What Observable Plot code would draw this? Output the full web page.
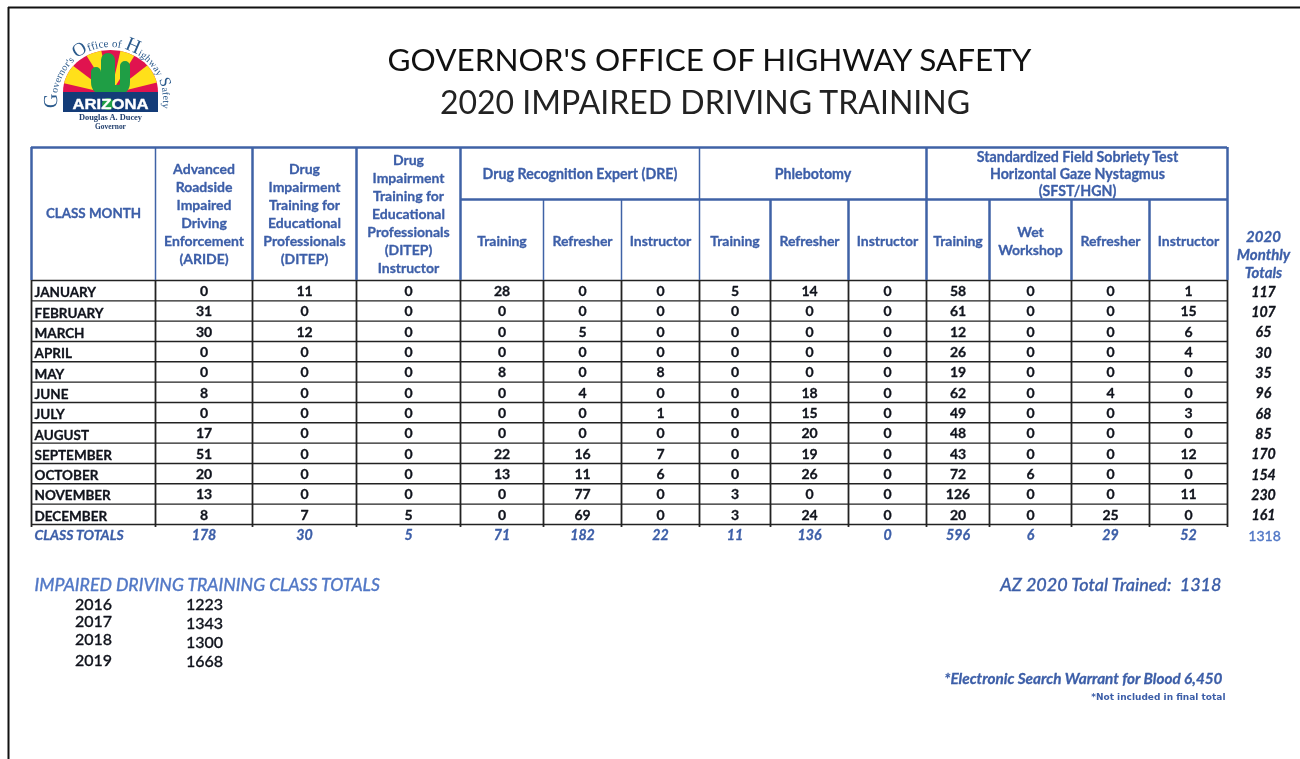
<!DOCTYPE html>
<html>
<head>
<meta charset="utf-8">
<script src="https://cdn.jsdelivr.net/npm/d3@7"></script>
<script src="https://cdn.jsdelivr.net/npm/@observablehq/plot@0.6"></script>
<style>
html,body{margin:0;padding:0;background:#fff;overflow:hidden}
svg{display:block;background:#fff;filter:blur(0.35px)}
</style>
</head>
<body>
<div id="chart"></div>
<script>
// ---------- data ----------
const months = ["JANUARY","FEBRUARY","MARCH","APRIL","MAY","JUNE","JULY","AUGUST","SEPTEMBER","OCTOBER","NOVEMBER","DECEMBER"];
const aride      = [0,31,30,0,0,8,0,17,51,20,13,8];
const ditep      = [11,0,12,0,0,0,0,0,0,0,0,7];
const ditepInstr = [0,0,0,0,0,0,0,0,0,0,0,5];
const dreTraining  = [28,0,0,0,8,0,0,0,22,13,0,0];
const dreRefresher = [0,0,5,0,0,4,0,0,16,11,77,69];
const dreInstr     = [0,0,0,0,8,0,1,0,7,6,0,0];
const phlebTraining  = [5,0,0,0,0,0,0,0,0,0,3,3];
const phlebRefresher = [14,0,0,0,0,18,15,20,19,26,0,24];
const phlebInstr     = [0,0,0,0,0,0,0,0,0,0,0,0];
const sfstTraining  = [58,61,12,26,19,62,49,48,43,72,126,20];
const sfstWet       = [0,0,0,0,0,0,0,0,0,6,0,0];
const sfstRefresher = [0,0,0,0,0,4,0,0,0,0,0,25];
const sfstInstr     = [1,15,6,4,0,0,3,0,12,0,11,0];
const monthlyTotals = [117,107,65,30,35,96,68,85,170,154,230,161];
const classTotals   = [178,30,5,71,182,22,11,136,0,596,6,29,52];
const grandTotal = 1318;
const pastYears = ["2016","2017","2018","2019"];
const pastTotals = [1223,1343,1300,1668];
const columnHeads = [
  "Advanced\nRoadside\nImpaired\nDriving\nEnforcement\n(ARIDE)",
  "Drug\nImpairment\nTraining for\nEducational\nProfessionals\n(DITEP)",
  "Drug\nImpairment\nTraining for\nEducational\nProfessionals\n(DITEP)\nInstructor",
  "Training","Refresher","Instructor",
  "Training","Refresher","Instructor",
  "Training","Wet\nWorkshop","Refresher","Instructor"
];
const groupHeads = ["Drug Recognition Expert (DRE)","Phlebotomy","Standardized Field Sobriety Test\nHorizontal Gaze Nystagmus\n(SFST/HGN)"];
const columns = [aride,ditep,ditepInstr,dreTraining,dreRefresher,dreInstr,phlebTraining,phlebRefresher,phlebInstr,sfstTraining,sfstWet,sfstRefresher,sfstInstr];

// ---------- layout ----------
const W = 1300, H = 759;
const edges = [31,155,252,356,460,543,621,699,770,848,926,989,1071,1149,1227];
const edgeW = [2.5,1.5,2.5,2.5,2,1.5,1.5,1.5,2.5,2.5,2.5,2.5,2.5,2.5,2.5];
const colX = i => (edges[i+1] + edges[i+2]) / 2;   // data column i centre
const headTop = 147, groupBottom = 199, headBottom = 280, rowH = 20.33;
const rowY = i => headBottom + rowH * (i + 0.5);
const totalsX = 1264;
const BLUE = "#3c5ea8", LBLUE = "#5278c6", DARK = "#10131c", RULE = "#3f62a6";
const FONT = "Lato, Carlito, sans-serif";

const cells = columns.flatMap((vals, c) => vals.map((v, r) => ({c, r, v})));
const monthRows = months.map((m, r) => ({m, r}));
const totalRows = monthlyTotals.map((v, r) => ({v, r}));
const bottomY = headBottom + rowH * 12;
const rowLines = d3.range(13);

function logo() {
  const g = d3.create("svg:g");
  const cx = 110.5, by = 92, rx = 47.5, ry = 42;
  g.append("defs").append("clipPath").attr("id","dome").append("path")
    .attr("d",`M${cx-rx},${by}A${rx},${ry} 0 0 1 ${cx+rx},${by}Z`);
  const dome = g.append("g").attr("clip-path","url(#dome)");
  dome.append("rect").attr("x",cx-rx).attr("y",by-ry).attr("width",2*rx).attr("height",ry).attr("fill","#e0134f");
  [[13,37],[58,78],[103,122],[142,166]].forEach(([a,b]) => {
    const p = t => [cx - 80*Math.cos(t*Math.PI/180), by + 2 - 80*Math.sin(t*Math.PI/180)];
    dome.append("path").attr("d",`M${cx},${by+2}L${p(a)}L${p(b)}Z`).attr("fill","#ffe01a");
  });
  const cactus = "#1f9e45";
  g.append("path").attr("fill","none").attr("stroke",cactus).attr("stroke-linecap","round").attr("stroke-width",10)
    .attr("d","M96,72V82Q96,90 104,90H118Q125,90 125,82V66");
  g.append("path").attr("fill","none").attr("stroke",cactus).attr("stroke-linecap","round").attr("stroke-width",14)
    .attr("d","M108,60V92");
  g.append("rect").attr("x",cx-rx).attr("y",by).attr("width",2*rx).attr("height",20).attr("fill","#143c78");
  g.append("circle").attr("cx",108).attr("cy",104).attr("r",6).attr("fill",cactus);
  g.append("text").attr("x",cx).attr("y",109).attr("text-anchor","middle").attr("fill","#fff").attr("stroke","#fff").attr("stroke-width",0.4)
    .attr("font-family","'Liberation Sans'").attr("font-weight","bold").attr("font-size",15.5).attr("textLength",76).attr("lengthAdjust","spacingAndGlyphs").text("ARIZONA");
  const serif = "'Liberation Serif'";
  g.append("text").attr("x",cx).attr("y",119.5).attr("text-anchor","middle").attr("fill","#23406e")
    .attr("font-family",serif).attr("font-weight","bold").attr("font-size",8.4).text("Douglas A. Ducey");
  g.append("text").attr("x",cx).attr("y",129).attr("text-anchor","middle").attr("fill","#23406e")
    .attr("font-family",serif).attr("font-weight","bold").attr("font-size",7.4).text("Governor");
  // curved organisation name, set letter by letter on a circle
  const runs = [["G",20],["overnor's ",10],["O",19],["ffice ",11],["of ",11],["H",20],["ighway ",10],["S",16],["afety",10]];
  const ctx = document.createElement("canvas").getContext("2d");
  const glyphs = runs.flatMap(([t,s]) => [...t].map(ch => {
    ctx.font = `${s}px 'Liberation Serif'`;
    return {ch, s, w: ctx.measureText(ch).width};
  }));
  const R = 53, C = [110, 100], a0 = -99, a1 = 99;
  const sumW = d3.sum(glyphs, d => d.w);
  const k = (a1 - a0) * Math.PI / 180 * R / sumW;
  let run = 0;
  glyphs.forEach(d => {
    const mid = (run + d.w / 2) * k / R;
    run += d.w;
    const deg = a0 + mid * 180 / Math.PI;
    const t = deg * Math.PI / 180;
    const px = C[0] + R * Math.sin(t), py = C[1] - R * Math.cos(t);
    if (d.ch !== " ") g.append("text").attr("transform",`translate(${px},${py}) rotate(${deg})`)
      .attr("text-anchor","middle").attr("fill","#2b5a8c").attr("font-family",serif).attr("font-size",d.s).text(d.ch);
  });
  return g.node();
}

const txt = (data, o) => Plot.text(data, {fontFamily: FONT, fontWeight: "bold", lineAnchor: "middle", stroke: o.fill, strokeWidth: 0.3, ...o});

const plot = Plot.plot({
  width: W, height: H, margin: 0,
  x: {domain: [0, W], range: [0, W], axis: null},
  y: {domain: [0, H], range: [0, H], axis: null},
  marks: [
    // page frame
    Plot.ruleX([8], {y1: 7, y2: H, stroke: "#111", strokeWidth: 2}),
    Plot.ruleY([7], {x1: 8, x2: W, stroke: "#111", strokeWidth: 2}),
    logo,
    // title
    Plot.text(["GOVERNOR'S OFFICE OF HIGHWAY SAFETY"], {x: 709, y: 60, fontFamily: FONT, fontSize: 31.5, fill: "#111", lineAnchor: "middle"}),
    Plot.text(["2020 IMPAIRED DRIVING TRAINING"], {x: 704.5, y: 103, fontFamily: FONT, fontSize: 32, fill: "#222", lineAnchor: "middle"}),
    // body grid
    Plot.ruleX(edges, {y1: headBottom, y2: bottomY + 3, stroke: "#222", strokeWidth: 1.8}),
    Plot.ruleY(rowLines, {y: i => headBottom + rowH * i, x1: edges[0], x2: edges[14], stroke: "#222", strokeWidth: 1.4}),
    // header grid
    Plot.ruleX(edges.slice(0, 5), {y1: headTop, y2: headBottom, stroke: RULE, strokeWidth: (d, i) => edgeW[i]}),
    Plot.ruleX([edges[4], edges[7], edges[10], edges[14]], {y1: headTop, y2: groupBottom, stroke: RULE, strokeWidth: (d, i) => [2, 1.5, 2.5, 2.5][i]}),
    Plot.ruleX(edges.slice(4), {y1: groupBottom, y2: headBottom, stroke: RULE, strokeWidth: (d, i) => edgeW[i + 4]}),
    Plot.ruleY([headTop], {x1: edges[0], x2: edges[14], stroke: RULE, strokeWidth: 2.5}),
    Plot.ruleY([groupBottom], {x1: edges[4], x2: edges[14], stroke: RULE, strokeWidth: 2.5}),
    // header text
    txt(["CLASS MONTH"], {x: 93, y: 213, fontSize: 13.4, fill: BLUE}),
    txt(columnHeads, {x: (d, i) => colX(i), y: (d, i) => i < 3 ? 213 : 240, fontSize: 14, lineHeight: 1.28, fill: BLUE}),
    txt(groupHeads, {x: (d, i) => [(edges[4]+edges[7])/2, (edges[7]+edges[10])/2, 1077][i], y: 173, fontSize: 14.2, lineHeight: 1.2, fill: BLUE}),
    txt(["2020\nMonthly\nTotals"], {x: 1263, y: 254, fontSize: 15, fontStyle: "italic", lineHeight: 1.2, fill: BLUE}),
    // body text
    txt(monthRows, {x: 34, y: d => rowY(d.r) + 2.2, text: "m", textAnchor: "start", fontSize: 13.5, fill: DARK}),
    txt(cells, {x: d => colX(d.c), y: d => rowY(d.r) + 1, text: d => String(d.v), fontSize: 14, fill: DARK}),
    txt(totalRows, {x: 1263, y: d => rowY(d.r) + 1.6, text: d => String(d.v), fontSize: 14.2, fontStyle: "italic", fill: DARK}),
    // class totals
    txt(["CLASS TOTALS"], {x: 34, y: 535, textAnchor: "start", fontSize: 14, fontStyle: "italic", fill: BLUE}),
    txt(classTotals, {x: (d, i) => colX(i), y: 535, text: d => String(d), fontSize: 14.2, fontStyle: "italic", fill: BLUE}),
    txt([grandTotal], {x: totalsX, y: 536, text: d => String(d), fontWeight: 500, fontSize: 14, fill: LBLUE}),
    // lower notes
    txt(["IMPAIRED DRIVING TRAINING CLASS TOTALS"], {x: 34, y: 585, textAnchor: "start", fontSize: 17.6, fontStyle: "italic", fontWeight: 500, fill: LBLUE}),
    txt(pastYears, {x: 93, y: (d, i) => [604, 621.5, 639, 660][i], fontSize: 16, fontWeight: 500, fill: DARK}),
    txt(pastTotals, {x: 204, y: (d, i) => [604, 623, 642, 661][i], text: d => String(d), fontSize: 16, fontWeight: 500, fill: DARK}),
    txt(["AZ 2020 Total Trained:\u00a0 1318"], {x: 1221, y: 585, textAnchor: "end", fontSize: 18, fontStyle: "italic", fontWeight: 500, fill: BLUE}),
    txt(["*Electronic Search Warrant for Blood 6,450"], {x: 1222, y: 679, textAnchor: "end", fontSize: 15.3, fontStyle: "italic", fill: BLUE}),
    Plot.text(["*Not included in final total"], {x: 1225, y: 697, textAnchor: "end", lineAnchor: "middle", fontFamily: "'DejaVu Sans'", fontWeight: "bold", fontSize: 9, fill: BLUE})
  ]
});
document.getElementById("chart").appendChild(plot);
</script>
</body>
</html>
